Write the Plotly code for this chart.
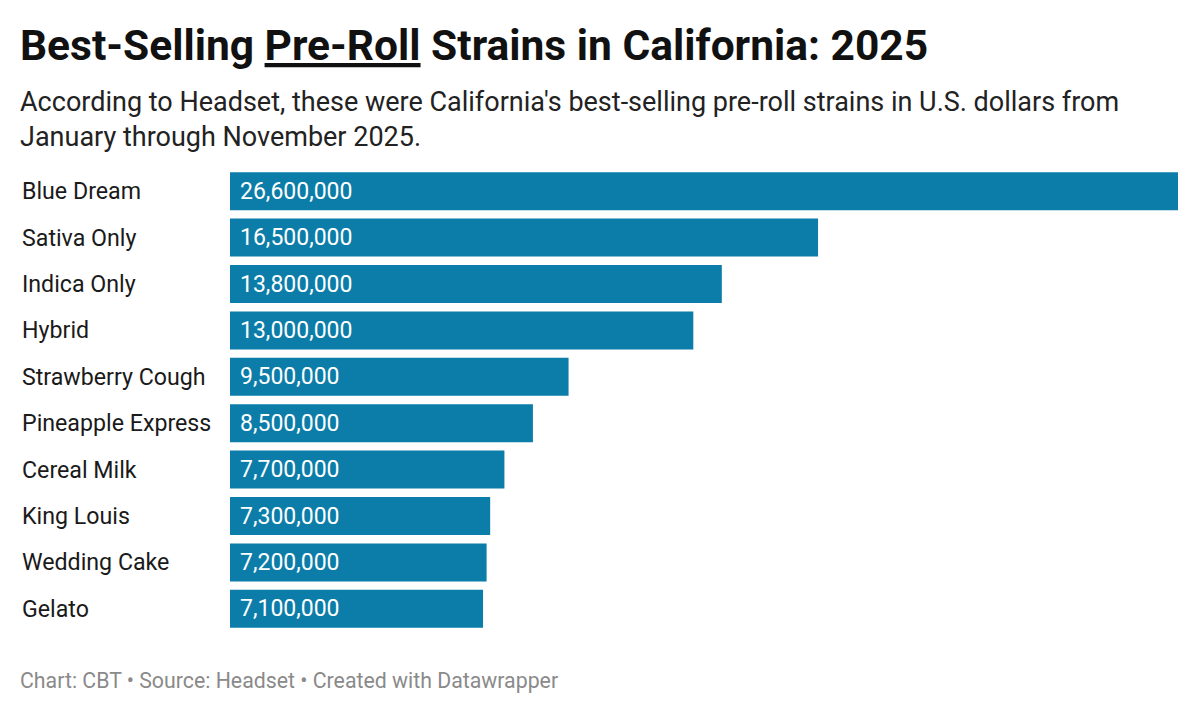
import plotly.graph_objects as go

# datos
cepas = ["Blue Dream", "Sativa Only", "Indica Only", "Hybrid", "Strawberry Cough",
         "Pineapple Express", "Cereal Milk", "King Louis", "Wedding Cake", "Gelato"]
ventas = [26600000, 16500000, 13800000, 13000000, 9500000,
          8500000, 7700000, 7300000, 7200000, 7100000]
etiquetas = [f"{v:,}" for v in ventas]

# margenes (la pagina desplaza la figura unos px a la derecha y abajo)
ml, mr, mt, mb = 222, 30, 160, 88
alto = 712 - mt - mb
ancho = 1200 - ml - mr

fig = go.Figure(go.Bar(
    x=ventas,
    y=cepas,
    orientation="h",
    marker=dict(color="#0b7da8", line=dict(width=0)),
    width=0.82,
    hoverinfo="skip",
))

fig.update_layout(
    width=1200, height=712,
    margin=dict(l=ml, r=mr, t=mt, b=mb),
    paper_bgcolor="white", plot_bgcolor="white",
    font=dict(family="Roboto", color="#1a1a1a"),
    showlegend=False,
    xaxis=dict(range=[0, 26600000], visible=False, fixedrange=True),
    yaxis=dict(autorange="reversed", showticklabels=False, showgrid=False,
               zeroline=False, fixedrange=True),
)

# etiquetas de categoria a la izquierda y valores dentro de la barra
for c, t in zip(cepas, etiquetas):
    fig.add_annotation(x=0, y=c, xref="paper", yref="y", xshift=-210,
                       text=c, showarrow=False, xanchor="left",
                       font=dict(family="Roboto", size=23.2, color="#1a1a1a"))
    fig.add_annotation(x=0, y=c, xref="x", yref="y", xshift=8,
                       text=t, showarrow=False, xanchor="left",
                       font=dict(family="Roboto", size=23, color="white"))

x_izq = (10 - ml) / ancho

# titulo
fig.add_annotation(x=x_izq, y=1 + (mt - 38) / alto, xref="paper", yref="paper",
                   text="<b>Best-Selling <span style='text-decoration:underline'>Pre-Roll</span> Strains in California: 2025</b>",
                   showarrow=False, xanchor="left", yanchor="middle",
                   font=dict(family="Roboto", size=42.5, color="#111"))
# subtitulo
fig.add_annotation(x=x_izq, y=1 + (mt - 76) / alto, xref="paper", yref="paper",
                   text="According to Headset, these were California's best-selling pre-roll strains in U.S. dollars from<br>January through November 2025.",
                   showarrow=False, xanchor="left", yanchor="top", align="left",
                   font=dict(family="Roboto", size=27, color="#222"))
# pie
fig.add_annotation(x=x_izq, y=-(672 - (712 - mb)) / alto, xref="paper", yref="paper",
                   text="Chart: CBT • Source: Headset • Created with Datawrapper",
                   showarrow=False, xanchor="left", yanchor="middle",
                   font=dict(family="Roboto", size=21.3, color="#8a8a8a"))

fig.write_html("out.html")
